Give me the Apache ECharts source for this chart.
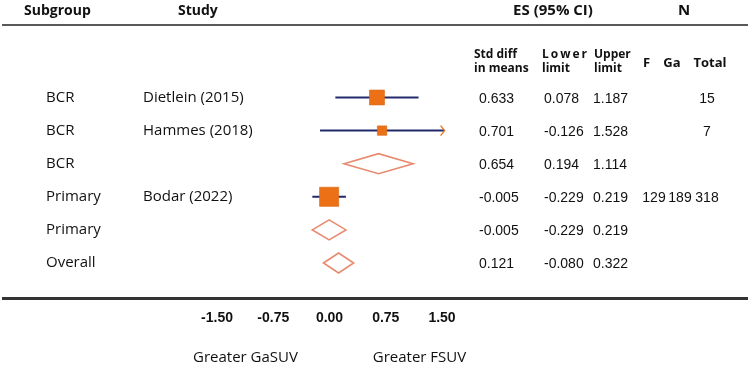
<!DOCTYPE html>
<html><head><meta charset="utf-8">
<script src="https://cdn.jsdelivr.net/npm/echarts@6/dist/echarts.min.js"></script>
<style>html,body{margin:0;padding:0;background:#fff}#c{width:750px;height:367px}</style>
</head><body><div id="c"></div>
<script>
// ---- data ----
const subgroups = ['BCR', 'BCR', 'BCR', 'Primary', 'Primary', 'Overall'];
const studies = ['Dietlein (2015)', 'Hammes (2018)', '', 'Bodar (2022)', '', ''];
const kinds = ['study', 'study', 'summary', 'study', 'summary', 'summary'];
const stdDiff = [0.633, 0.701, 0.654, -0.005, -0.005, 0.121];
const lowerLimit = [0.078, -0.126, 0.194, -0.229, -0.229, -0.080];
const upperLimit = [1.187, 1.528, 1.114, 0.219, 0.219, 0.322];
const weights = [33, 13, 0, 54, 0, 0];
const nF = ['', '', '', '129', '', ''];
const nGa = ['', '', '', '189', '', ''];
const nTotal = ['15', '7', '', '318', '', ''];
const esText = ['0.633', '0.701', '0.654', '-0.005', '-0.005', '0.121'];
const lowerText = ['0.078', '-0.126', '0.194', '-0.229', '-0.229', '-0.080'];
const upperText = ['1.187', '1.528', '1.114', '0.219', '0.219', '0.322'];
const xTicks = [-1.5, -0.75, 0, 0.75, 1.5];
const footLeft = 'Greater GaSUV';
const footRight = 'Greater FSUV';

const X_MIN = -1.5, X_MAX = 1.5;
const SANS = '"Open Sans", "Noto Sans", sans-serif';
const NUM = '"Liberation Sans", Arial, sans-serif';
const ORANGE = '#EC7116', NAVY = '#232A6C', SALMON = '#E88A6E';

const chart = echarts.init(document.getElementById('c'), null, {renderer: 'canvas'});

const forestData = stdDiff.map((v, i) => [v, lowerLimit[i], upperLimit[i], i + 1, weights[i], kinds[i] === 'summary' ? 1 : 0]);
const tableData = subgroups.map((s, i) => [0, i + 1, i]);

function txt(x, y, text, o) {
  return {type: 'text', x: x, y: y, style: Object.assign({text: text, fill: '#111', font: '15px ' + SANS, textAlign: 'left', textVerticalAlign: 'middle'}, o || {})};
}

const option = {
  animation: false,
  backgroundColor: '#fff',
  grid: {left: 217, width: 225, top: 64.4, height: 231.7},
  xAxis: {
    type: 'value', min: X_MIN, max: X_MAX, interval: 0.75,
    axisLine: {show: false}, axisTick: {show: false}, splitLine: {show: false},
    axisLabel: {margin: 15, color: '#111', fontFamily: NUM, fontWeight: 'bold', fontSize: 14,
      formatter: v => (xTicks.indexOf(v) >= 0 ? v.toFixed(2) : '')}
  },
  yAxis: {type: 'value', min: 0, max: 7, inverse: true, show: false},
  graphic: [
    {type: 'line', shape: {x1: 2, y1: 25, x2: 748, y2: 25}, style: {stroke: '#222', lineWidth: 1.6}},
    {type: 'line', shape: {x1: 2, y1: 298.5, x2: 748, y2: 298.5}, style: {stroke: '#333', lineWidth: 3}},
    txt(24, 11, 'Subgroup', {font: 'bold 14px ' + SANS}),
    txt(178, 11, 'Study', {font: 'bold 14px ' + SANS}),
    txt(553, 11, 'ES (95% CI)', {font: 'bold 15px ' + SANS, textAlign: 'center'}),
    txt(684, 11, 'N', {font: 'bold 15px ' + SANS, textAlign: 'center'}),
    txt(474, 55, 'Std diff', {font: 'bold 12px ' + SANS}),
    txt(474, 69, 'in means', {font: 'bold 12px ' + SANS}),
    txt(542, 55, 'L\u2006o\u2006w\u2006e\u2006r', {font: 'bold 12px ' + SANS}),
    txt(542, 69, 'limit', {font: 'bold 12px ' + SANS}),
    txt(594, 55, 'Upper', {font: 'bold 12px ' + SANS}),
    txt(594, 69, 'limit', {font: 'bold 12px ' + SANS}),
    txt(646.5, 63, 'F', {font: 'bold 13px ' + SANS, textAlign: 'center'}),
    txt(672, 63, 'Ga', {font: 'bold 13px ' + SANS, textAlign: 'center'}),
    txt(710, 63, 'Total', {font: 'bold 13px ' + SANS, textAlign: 'center'}),
    txt(245.5, 358, footLeft, {textAlign: 'center'}),
    txt(419.5, 358, footRight, {textAlign: 'center'})
  ],
  series: [
    {
      type: 'custom', clip: false, data: forestData,
      encode: {x: [0, 1, 2], y: 3},
      renderItem: function (params, api) {
        const row = api.value(3);
        const c = api.coord([api.value(0), row]);
        const lo = api.coord([api.value(1), row]);
        const hi = api.coord([api.value(2), row]);
        const y = c[1];
        if (api.value(5) === 1) {
          return {type: 'polygon', shape: {points: [[lo[0], y], [c[0], y - 10], [hi[0], y], [c[0], y + 10]]},
            style: {fill: '#fff', stroke: SALMON, lineWidth: 1.6}};
        }
        const s = Math.sqrt(api.value(4)) * 2.6;
        const children = [
          {type: 'line', shape: {x1: lo[0], y1: y, x2: hi[0], y2: y}, style: {stroke: NAVY, lineWidth: 2}},
          {type: 'rect', shape: {x: c[0] - s / 2, y: y - s / 2, width: s, height: s}, style: {fill: ORANGE, stroke: '#D8650F', lineWidth: 0.6}}
        ];
        if (api.value(2) > X_MAX) {
          children.push({type: 'polyline', shape: {points: [[hi[0] - 3.5, y - 5], [hi[0] + 0.5, y], [hi[0] - 3.5, y + 5]]},
            style: {stroke: ORANGE, lineWidth: 1.3, fill: null}});
        }
        return {type: 'group', children: children};
      }
    },
    {
      type: 'custom', clip: false, data: tableData, silent: true,
      encode: {x: 0, y: 1},
      renderItem: function (params, api) {
        const i = api.value(2);
        const y = api.coord([0, api.value(1)])[1];
        const yn = y + 1.5;
        const num = {font: '14px ' + NUM};
        return {type: 'group', children: [
          txt(46, y, subgroups[i]),
          txt(143, y, studies[i]),
          txt(479, yn, esText[i], num),
          txt(544, yn, lowerText[i], num),
          txt(593, yn, upperText[i], num),
          txt(654, yn, nF[i], Object.assign({textAlign: 'center'}, num)),
          txt(680, yn, nGa[i], Object.assign({textAlign: 'center'}, num)),
          txt(707, yn, nTotal[i], Object.assign({textAlign: 'center'}, num))
        ]};
      }
    }
  ]
};
chart.setOption(option);
</script>
</body></html>
